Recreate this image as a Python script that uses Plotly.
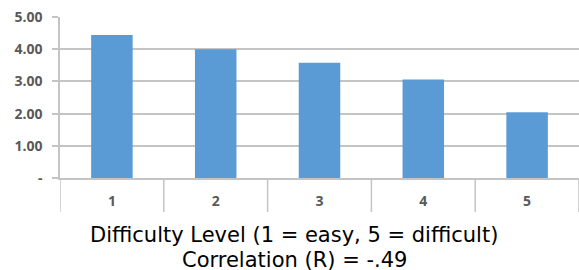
import plotly.graph_objects as go

categories = ["1", "2", "3", "4", "5"]
values = [4.44, 4.00, 3.58, 3.06, 2.04]
y_tickvals = [0, 1, 2, 3, 4, 5]
y_ticktext = ["-", "1.00", "2.00", "3.00", "4.00", "5.00"]
title_line1 = "Difficulty Level (1 = easy, 5 = difficult)"
title_line2 = "Correlation (R) = -.49"

W, H = 579, 270
ML, MR, MT, MB = 60, 0, 17, 92
grid = "#c4c4c4"
tickfont = dict(family="Open Sans, Liberation Sans, sans-serif", size=14, color="#595959", weight="bold")

fig = go.Figure(go.Bar(x=categories, y=values, marker=dict(color="#5b9bd5", line=dict(width=0)),
                       width=0.4, hoverinfo="skip"))

plot_w = W - ML - MR
plot_h = H - MT - MB
below = 34 / plot_h

shapes = []
n = len(categories)
for i in range(n + 1):
    shapes.append(dict(type="line", xref="x", yref="paper", x0=i - 0.5, x1=i - 0.5,
                       y0=0, y1=-below, line=dict(color=grid, width=1.5)))

cx = (294 - ML) / plot_w
fig.update_layout(
    width=W, height=H,
    margin=dict(l=ML, r=MR, t=MT, b=MB),
    paper_bgcolor="white", plot_bgcolor="white",
    showlegend=False,
    shapes=shapes,
    xaxis=dict(type="category", range=[-0.5, n - 0.5], showgrid=False, showline=True,
               linecolor=grid, linewidth=1.5, ticks="", tickfont=tickfont,
               ticklabelstandoff=9, fixedrange=True),
    yaxis=dict(range=[0, 5], tickvals=y_tickvals, ticktext=y_ticktext, showgrid=True,
               gridcolor=grid, gridwidth=1.5, showline=True, linecolor=grid, linewidth=1.5,
               ticks="outside", ticklen=6, tickcolor=grid, tickwidth=1.5,
               tickfont=tickfont, ticklabelstandoff=7, zeroline=False, fixedrange=True),
    annotations=[
        dict(text=title_line1, xref="paper", yref="paper", x=cx, y=(MT + plot_h - 235) / plot_h,
             xanchor="center", yanchor="middle", showarrow=False,
             font=dict(family="DejaVu Sans", size=21, color="#000000")),
        dict(text=title_line2, xref="paper", yref="paper", x=cx, y=(MT + plot_h - 259.5) / plot_h,
             xanchor="center", yanchor="middle", showarrow=False,
             font=dict(family="DejaVu Sans", size=21, color="#000000")),
    ],
)

fig.write_html("out.html", config={"displayModeBar": False},
               post_script="document.body.style.margin='0';document.body.style.overflow='hidden';")
